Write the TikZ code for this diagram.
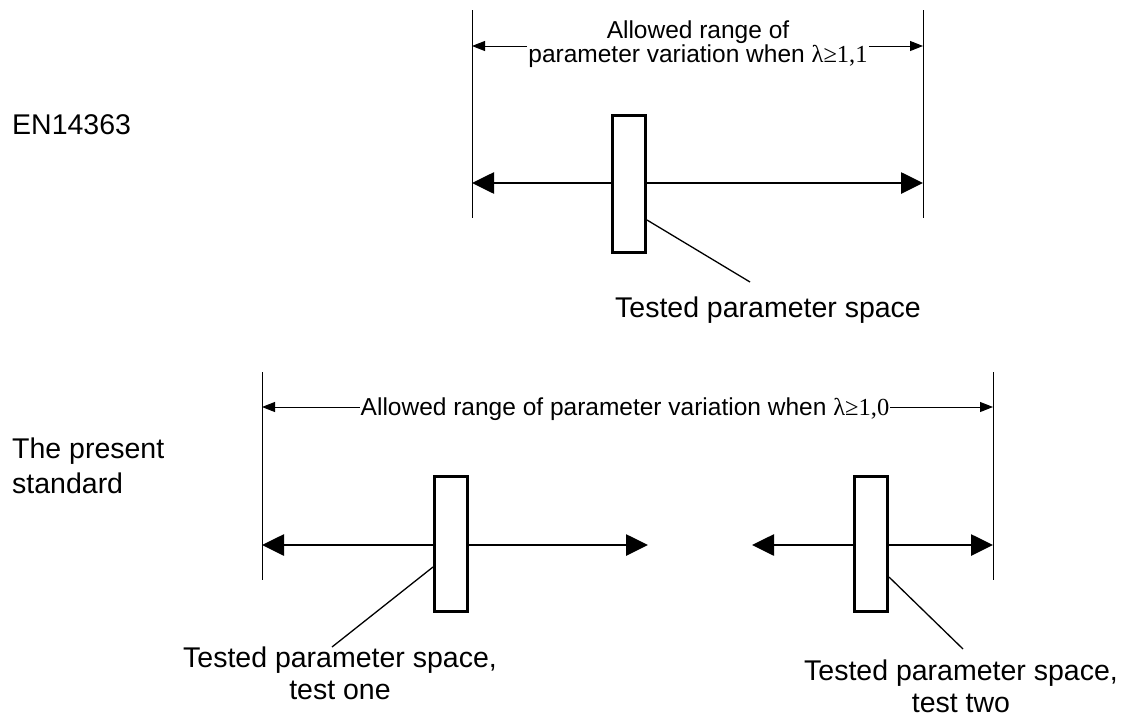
\documentclass[tikz,border=0pt]{standalone}
\usepackage{fontspec}
\setmainfont{Liberation Sans}
\newfontfamily\tnr{Liberation Serif}
\usetikzlibrary{arrows.meta}
\tikzset{
  vline/.style={line width=1pt},
  dimline/.style={line width=1pt, -{Triangle[length=13pt,width=10pt]}},
  mainarrow/.style={line width=2.7pt, {Triangle[length=22pt,width=21pt]}-{Triangle[length=22pt,width=21pt]}},
  testbox/.style={draw, line width=3pt, fill=white, minimum width=33pt, minimum height=137pt, inner sep=0pt},
  leader/.style={line width=1.3pt},
  lbl/.style={font=\fontsize{28.5}{32}\selectfont, inner sep=0pt, anchor=base},
  dimtxt/.style={font=\fontsize{24.5}{25}\selectfont, inner sep=1pt, anchor=base},
}
\begin{document}
\begin{tikzpicture}[x=1pt,y=-1pt]
\useasboundingbox (0,0) rectangle (1133,718);
% ---------------- top: EN14363
\node[lbl, anchor=base west] (en) at (12,134) {EN14363};
\draw[vline] (472,10) -- (472,218);
\draw[vline] (923,10) -- (923,218);
\coordinate (tl) at (472,46);
\coordinate (tr) at (923,46);
\node[dimtxt] (t1) at (698,38) {Allowed range of};
\node[dimtxt] (t2) at (698,62) {parameter variation when {\tnr λ≥1,1}};
\draw[dimline] (t2.west |- tl) -- (tl);
\draw[dimline] (t2.east |- tr) -- (tr);
\coordinate (al) at (472,183);
\coordinate (ar) at (923,183);
\draw[mainarrow] (al) -- (ar);
\node[testbox] (b0) at (629,184) {};
\coordinate (l0) at (750,282);
\draw[leader] ([yshift=34pt]b0.south east) -- (l0);
\node[lbl] (tp0) at (768,317) {Tested parameter space};
% ---------------- bottom: present standard
\node[lbl, anchor=base west] (ps1) at (12,458) {The present};
\node[lbl, anchor=base west] (ps2) at (12,493) {standard};
\draw[vline] (262,372) -- (262,580);
\draw[vline] (993,372) -- (993,580);
\coordinate (bl) at (262,407);
\coordinate (br) at (993,407);
\node[dimtxt] (t3) at (625,415) {Allowed range of parameter variation when {\tnr λ≥1,0}};
\draw[dimline] (t3.west |- bl) -- (bl);
\draw[dimline] (t3.east |- br) -- (br);
\coordinate (a1l) at (262,545);
\coordinate (a1r) at (648,545);
\coordinate (a2l) at (752,545);
\coordinate (a2r) at (993,545);
\draw[mainarrow] (a1l) -- (a1r);
\draw[mainarrow] (a2l) -- (a2r);
\node[testbox, minimum height=135pt] (b1) at (451,544) {};
\node[testbox, minimum height=135pt] (b2) at (871,544) {};
\coordinate (l1) at (332,647);
\coordinate (l2) at (963,649);
\draw[leader] ([yshift=46pt]b1.south west) -- (l1);
\draw[leader] ([yshift=36pt]b2.south east) -- (l2);
\node[lbl] (tp1a) at (340,667) {Tested parameter space,};
\node[lbl] (tp1b) at (340,699) {test one};
\node[lbl] (tp2a) at (961,680) {Tested parameter space,};
\node[lbl] (tp2b) at (961,712) {test two};
\end{tikzpicture}
\end{document}
